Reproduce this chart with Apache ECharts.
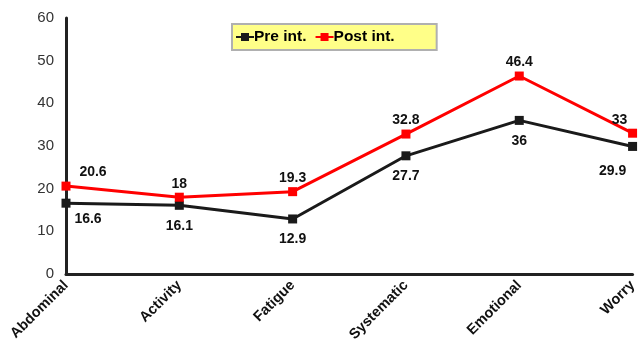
<!DOCTYPE html>
<html><head><meta charset="utf-8">
<script src="https://cdn.jsdelivr.net/npm/echarts@6/dist/echarts.min.js"></script>
<style>html,body{margin:0;padding:0;background:#fff}#c{width:640px;height:348px}</style>
</head><body><div id="c"></div>
<script>
const categories = ['Abdominal','Activity','Fatigue','Systematic','Emotional','Worry'];
const preValues = [16.6, 16.1, 12.9, 27.7, 36, 29.9];
const postValues = [20.6, 18, 19.3, 32.8, 46.4, 33];
const yTicks = [0, 10, 20, 30, 40, 50, 60];

const chart = echarts.init(document.getElementById('c'));
const lblFont = {fontFamily:'Liberation Sans, Arial', fontWeight:'bold', fontSize:14, color:'#111'};
chart.setOption({
  animation:false,
  grid:{left:66, right:7, top:18, bottom:74},
  legend:{
    left:232, top:24,
    padding:[5,42,5,3],
    backgroundColor:'#ffff88', borderColor:'#b0b0b0', borderWidth:2,
    itemWidth:18, itemHeight:10, itemGap:8,
    textStyle:{fontFamily:'Liberation Sans, Arial', fontWeight:'bold', fontSize:15.5, color:'#000', padding:[0,0,0,-5]},
    data:['Pre int.','Post int.']
  },
  xAxis:{
    type:'category', data:categories, boundaryGap:false,
    axisLine:{lineStyle:{color:'#222', width:3}},
    axisTick:{show:false},
    axisLabel:{rotate:45, interval:0, margin:9, fontFamily:'Liberation Sans, Arial', fontWeight:'bold', fontSize:14.5, color:'#111'}
  },
  yAxis:{
    type:'value', min:0, max:60, interval:10,
    axisLine:{show:true, lineStyle:{color:'#222', width:3}},
    axisTick:{show:false},
    splitLine:{show:false},
    axisLabel:{margin:12, fontFamily:'Liberation Sans, Arial', fontSize:15, color:'#333',
      formatter:v=>yTicks.includes(v)?String(v):''}
  },
  series:[
    {name:'Pre int.', type:'line', data:preValues, symbol:'rect', symbolSize:9,
     itemStyle:{color:'#1a1a1a'}, lineStyle:{color:'#1a1a1a', width:3},
     label:{show:true, position:'bottom', distance:9, ...lblFont},
     labelLayout:(p)=> p.dataIndex===0 ? {dx:22, dy:-5} : (p.dataIndex===5 ? {dx:-20, dy:4} : {})
    },
    {name:'Post int.', type:'line', data:postValues, symbol:'rect', symbolSize:9,
     itemStyle:{color:'#ff0000'}, lineStyle:{color:'#ff0000', width:3},
     label:{show:true, position:'top', distance:2, ...lblFont},
     labelLayout:(p)=> p.dataIndex===0 ? {dx:27} : (p.dataIndex===5 ? {dx:-13}:{})
    }
  ]
});
</script></body></html>
